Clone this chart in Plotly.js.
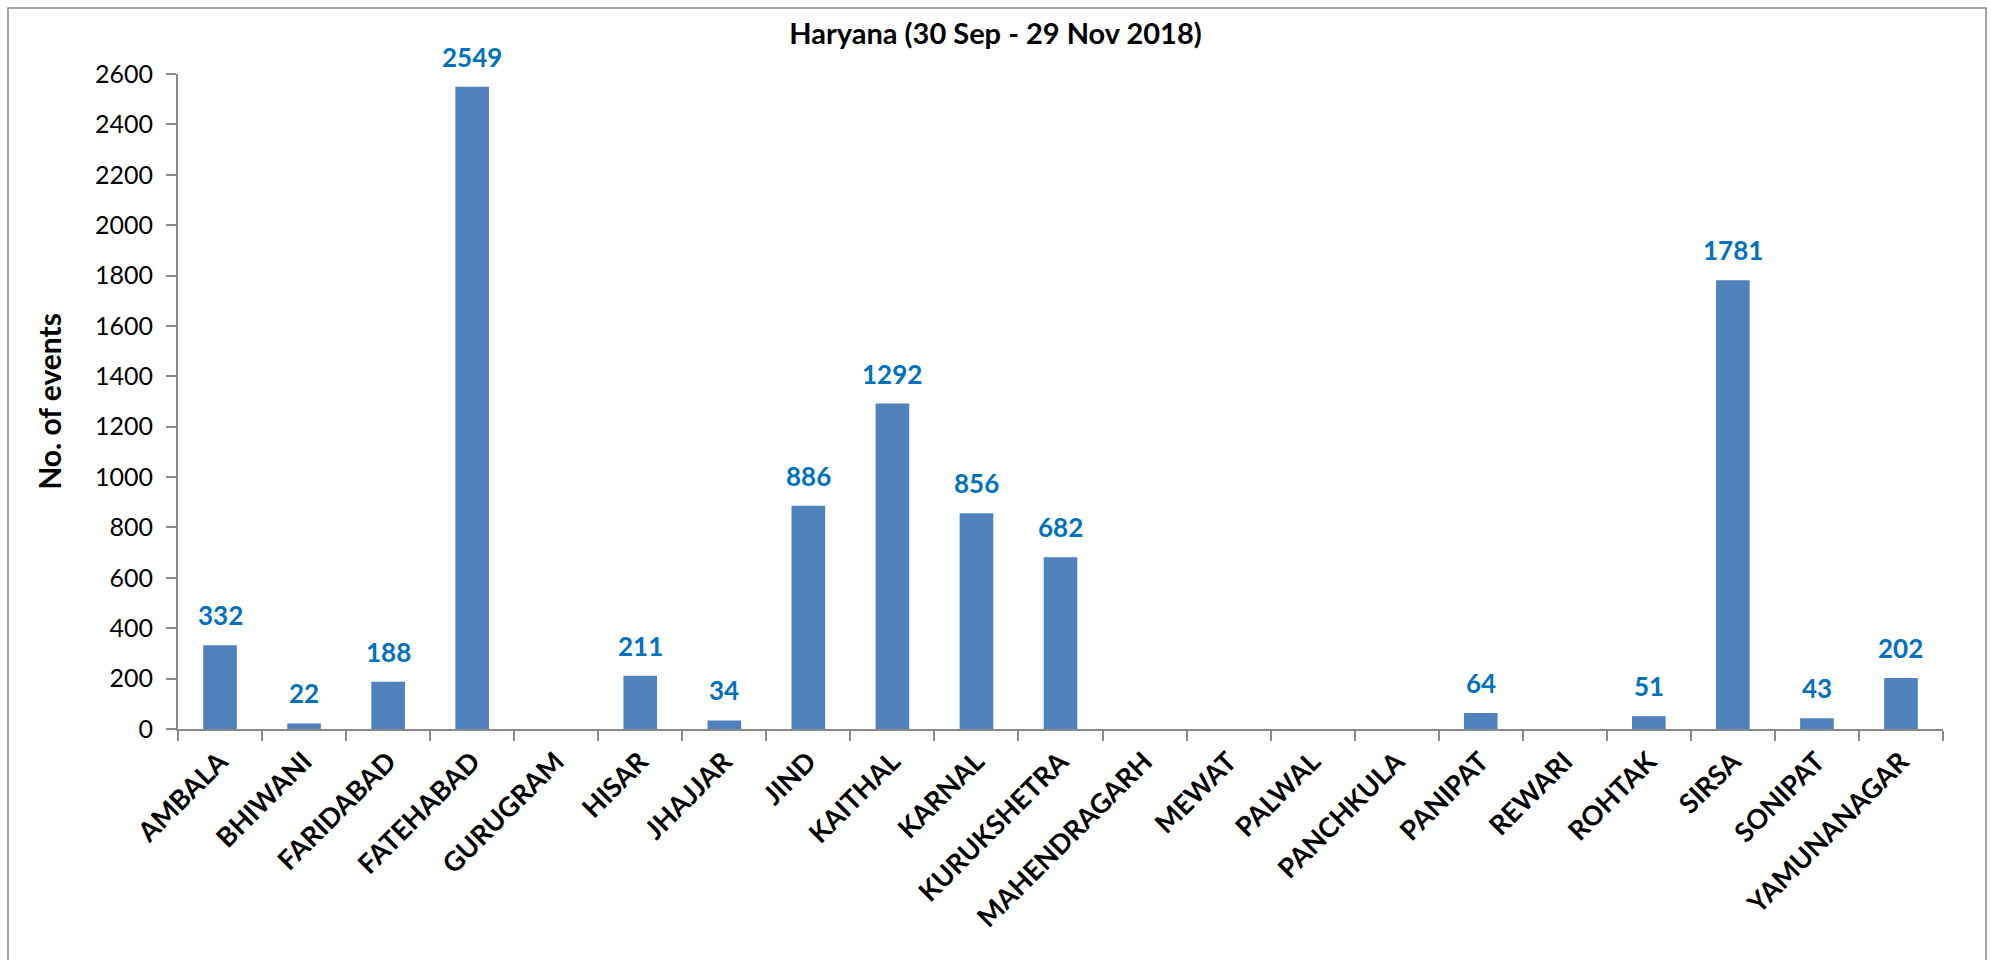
<!DOCTYPE html>
<html>
<head>
<meta charset="utf-8">
<script src="https://cdn.plot.ly/plotly-3.0.1.min.js"></script>
<style>html,body{margin:0;padding:0;background:#fff;}#chart{width:1991px;height:960px;}</style>
</head>
<body>
<div id="chart"></div>
<script>
const districts = ["AMBALA","BHIWANI","FARIDABAD","FATEHABAD","GURUGRAM","HISAR","JHAJJAR","JIND","KAITHAL","KARNAL","KURUKSHETRA","MAHENDRAGARH","MEWAT","PALWAL","PANCHKULA","PANIPAT","REWARI","ROHTAK","SIRSA","SONIPAT","YAMUNANAGAR"];
const events = [332,22,188,2549,0,211,34,886,1292,856,682,0,0,0,0,64,0,51,1781,43,202];
const yTicks = [0,200,400,600,800,1000,1200,1400,1600,1800,2000,2200,2400,2600];
const chartTitle = "Haryana (30 Sep - 29 Nov 2018)";
const yTitle = "No. of events";

const FONT = "Lato, 'Open Sans', sans-serif";

const trace = {
  type: "bar",
  x: districts,
  y: events,
  width: 0.4,
  marker: {color: "#4F81BD", line: {width: 0}},
  hoverinfo: "x+y",
  showlegend: false
};

const annotations = districts.map((d, i) => events[i] > 0 ? {
  x: d, y: events[i], xref: "x", yref: "y",
  text: "<b>" + events[i] + "</b>",
  showarrow: false, yanchor: "bottom", yshift: 12,
  font: {family: FONT, size: 26, color: "#0070C0"}
} : null).filter(a => a);

const layout = {
  width: 1991, height: 960,
  margin: {l: 178, r: 48, t: 74, b: 231},
  paper_bgcolor: "#fff", plot_bgcolor: "#fff",
  font: {family: FONT, color: "#000"},
  title: {
    text: "<b>" + chartTitle + "</b>",
    font: {family: FONT, size: 29, color: "#000"},
    x: 0.5, xref: "container", xanchor: "center",
    y: 1 - 34/960, yref: "container", yanchor: "middle"
  },
  xaxis: {
    type: "category",
    showline: true, linecolor: "#898989", linewidth: 2,
    ticks: "outside", tickson: "boundaries", ticklen: 10, tickcolor: "#898989", tickwidth: 2,
    tickangle: -45,
    tickfont: {family: FONT, size: 27, color: "#000", weight: "bold"},
    ticklabelstandoff: 4,
    showgrid: false, zeroline: false,
    fixedrange: true
  },
  yaxis: {
    range: [0, 2600],
    tickvals: yTicks,
    ticktext: yTicks.map(String),
    showline: true, linecolor: "#898989", linewidth: 2,
    ticks: "outside", ticklen: 10, tickcolor: "#898989", tickwidth: 2,
    tickfont: {family: FONT, size: 25, color: "#000"},
    ticklabelstandoff: 8,
    showgrid: false, zeroline: false,
    title: {text: "<b>" + yTitle + "</b>", font: {family: FONT, size: 30, color: "#000"}, standoff: 24}
  },
  annotations: annotations,
  shapes: [{
    type: "rect", xref: "paper", yref: "paper",
    x0: (8 - 178) / 1765, x1: (1986 - 178) / 1765,
    y0: (729 - 962) / 655, y1: (729 - 8) / 655,
    line: {color: "#888888", width: 1.5}, fillcolor: "rgba(0,0,0,0)", layer: "below"
  }]
};

Plotly.newPlot("chart", [trace], layout, {displayModeBar: false, staticPlot: true});
</script>
</body>
</html>
